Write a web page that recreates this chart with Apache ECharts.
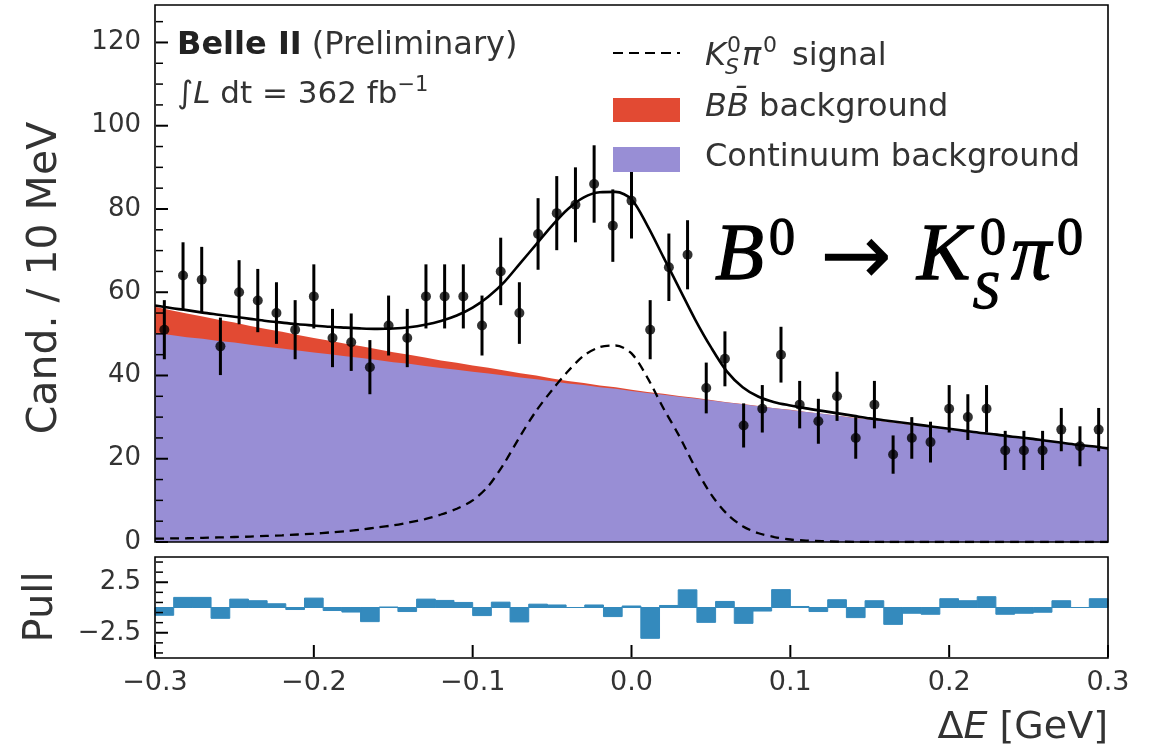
<!DOCTYPE html>
<html><head><meta charset="utf-8">
<script src="https://cdn.jsdelivr.net/npm/echarts@6/dist/echarts.min.js"></script>
<style>html,body{margin:0;padding:0;background:#fff}#c{width:1156px;height:752px}</style>
</head><body><div id="c"></div>
<script>
// ---- data ----
const binCenters = [-0.29412,-0.28235,-0.27059,-0.25882,-0.24706,-0.23529,-0.22353,-0.21176,-0.20000,-0.18824,
  -0.17647,-0.16471,-0.15294,-0.14118,-0.12941,-0.11765,-0.10588,-0.09412,-0.08235,-0.07059,
  -0.05882,-0.04706,-0.03529,-0.02353,-0.01176,0.00000,0.01176,0.02353,0.03529,0.04706,
  0.05882,0.07059,0.08235,0.09412,0.10588,0.11765,0.12941,0.14118,0.15294,0.16471,
  0.17647,0.18824,0.20000,0.21176,0.22353,0.23529,0.24706,0.25882,0.27059,0.28235,0.29412];
const counts = [51,64,63,47,60,58,55,51,59,49,48,42,52,49,59,59,59,52,65,55,
  74,79,81,86,76,82,51,66,69,37,44,28,32,45,33,29,35,25,33,21,
  25,24,32,30,32,22,22,22,27,23,27];
const countErrors = [7.1,8.0,7.9,6.9,7.7,7.6,7.4,7.1,7.7,7.0,6.9,6.5,7.2,7.0,7.7,7.7,7.7,7.2,8.1,7.4,
  8.6,8.9,9.0,9.3,8.7,9.1,7.1,8.1,8.3,6.1,6.6,5.3,5.7,6.7,5.7,5.4,5.9,5.0,5.7,4.6,
  5.0,4.9,5.7,5.5,5.7,4.7,4.7,4.7,5.2,4.8,5.2];
const pulls = [-0.77,1.0,1.0,-1.07,0.83,0.67,0.37,-0.2,0.93,-0.3,-0.45,-1.4,0.05,-0.4,0.83,0.7,0.5,-0.8,0.53,-1.43,
  0.33,0.25,0.0,0.25,-0.9,0.15,-3.05,0.2,1.75,-1.47,0.6,-1.57,-0.35,1.77,0.1,-0.4,0.77,-1.0,0.67,-1.67,
  -0.57,-0.67,0.87,0.67,1.07,-0.67,-0.57,-0.47,0.67,0.0,0.87];
const curveX = [-0.30,-0.29,-0.28,-0.27,-0.26,-0.25,-0.24,-0.23,-0.22,-0.21,-0.20,-0.19,-0.18,-0.17,-0.16,-0.15,
  -0.14,-0.13,-0.12,-0.11,-0.10,-0.09,-0.08,-0.07,-0.06,-0.05,-0.04,-0.03,-0.02,-0.01,0.00,
  0.01,0.02,0.03,0.04,0.05,0.06,0.07,0.08,0.09,0.10,0.11,0.12,0.13,0.14,0.15,
  0.16,0.17,0.18,0.19,0.20,0.21,0.22,0.23,0.24,0.25,0.26,0.27,0.28,0.29,0.30];
const totalFit = [56.8,56.2,55.7,55.1,54.6,54.1,53.6,53.1,52.7,52.3,52.0,51.7,51.5,51.3,51.2,51.3,
  51.6,52.2,53.1,54.4,56.3,59.0,62.5,67.0,71.5,76.0,80.0,82.8,84.0,84.1,82.3,
  76.0,68.5,61.0,53.5,46.8,41.0,37.2,34.9,33.6,32.8,32.1,31.5,30.9,30.3,29.7,
  29.2,28.7,28.2,27.7,27.2,26.7,26.2,25.8,25.3,24.9,24.4,23.9,23.4,23.0,22.5];
const signalPdf = [0.8,0.85,0.9,1.0,1.1,1.2,1.3,1.45,1.6,1.8,2.0,2.3,2.6,3.0,3.5,4.0,
  4.7,5.5,6.6,8.0,10.0,13.5,19.0,25.5,31.5,36.5,41.0,44.8,46.8,47.2,45.3,
  39.5,32.2,25.5,18.0,11.5,6.8,3.8,2.1,1.2,0.6,0.35,0.2,0.1,0.05,0.02,
  0,0,0,0,0,0,0,0,0,0,0,0,0,0,0];
const continuumBkg = [50.2,49.7,49.2,48.8,48.3,47.9,47.4,46.9,46.5,46.0,45.5,45.1,44.6,44.2,43.7,43.2,
  42.8,42.3,41.8,41.4,40.9,40.5,40.0,39.5,39.1,38.6,38.1,37.7,37.2,36.8,36.3,
  35.8,35.4,34.9,34.5,34.0,33.5,33.1,32.6,32.1,31.7,31.2,30.8,30.3,29.8,29.4,
  28.9,28.4,28.0,27.5,27.1,26.6,26.1,25.7,25.2,24.7,24.3,23.8,23.4,22.9,22.4];
const bbBkg = [6.3,6.0,5.7,5.4,5.1,4.8,4.5,4.25,4.0,3.75,3.5,3.25,3.0,2.8,2.6,2.4,
  2.2,2.0,1.8,1.65,1.5,1.35,1.2,1.05,0.9,0.7,0.6,0.5,0.4,0.35,0.3,
  0.25,0.2,0.18,0.15,0.12,0.1,0.08,0.06,0.05,0.04,0.03,0.03,0.02,0.02,0.02,
  0.01,0.01,0.01,0,0,0,0,0,0,0,0,0,0,0,0];
const xTickLabels = [-0.3,-0.2,-0.1,0.0,0.1,0.2,0.3];
const yMajorTicks = [0,20,40,60,80,100,120];
const yMinorTicks = [5,10,15,25,30,35,45,50,55,65,70,75,85,90,95,105,110,115,125];
const pullMajorTicks = [-2.5,2.5];
const pullMinorTicks = [-4.5,-3.5,-1.5,-0.5,0.5,1.5,3.5,4.5];

// ---- styling / layout ----
const FONT = 'DejaVu Sans';
const SERIF = 'Liberation Serif';
const TXT = '#333';
const G0 = {left:155, top:5, width:953, height:537};
const G1 = {left:155, top:557, width:953, height:101};
const X_MIN = -0.3, X_MAX = 0.3, Y_MAX = 129, P_MIN = -5, P_MAX = 5;
const binWidth = binCenters[1] - binCenters[0];
const fmtMinus = s => String(s).replace('-', '\u2212');
const fmtX = v => { const r = Math.round(v*10)/10; return Math.abs(r) < 1e-9 ? '0.0' : fmtMinus(r.toFixed(1)); };

const chart = echarts.init(document.getElementById('c'), null, {renderer:'canvas'});

function txt(text, x, y, o) {
  o = o || {};
  return {type:'text', x:x, y:y, z:200, rotation:o.rotation||0,
    style:Object.assign({text:text, fill:o.fill||TXT, fontFamily:o.fontFamily||FONT, fontSize:o.fontSize||32,
      fontStyle:o.fontStyle||'normal', fontWeight:o.fontWeight||'normal',
      align:o.align||'left', verticalAlign:o.verticalAlign||'middle'},
      o.rich?{rich:o.rich}:{}, o.stroke?{stroke:o.stroke, lineWidth:o.lineWidth||1}:{})};
}
const big = {fontFamily:SERIF, fill:'#000', stroke:'#000', lineWidth:1.3};

// inward tick marks: a custom series per axis, positioned by the axes' own scales
function tickSeries(xi, yi, values, isY, edgeValue, len, width) {
  return {type:'custom', xAxisIndex:xi, yAxisIndex:yi, z:30, clip:false, silent:true,
    data: values.map(v => isY ? [edgeValue, v] : [v, edgeValue]),
    renderItem:(params, api)=>{
      const p = api.coord([api.value(0), api.value(1)]);
      const shape = isY ? {x1:p[0]+1, y1:p[1], x2:p[0]+1+len, y2:p[1]} : {x1:p[0], y1:p[1]-1, x2:p[0], y2:p[1]-1-len};
      return {type:'line', shape:shape, style:{stroke:'#000', lineWidth:width}};
    }};
}

const option = {
  animation:false,
  backgroundColor:'#fff',
  grid:[Object.assign({show:false}, G0), Object.assign({show:false}, G1)],
  xAxis:[
    {gridIndex:0, type:'value', min:X_MIN, max:X_MAX, interval:0.1,
     axisLine:{show:false}, axisTick:{show:false}, axisLabel:{show:false}, splitLine:{show:false}},
    {gridIndex:1, type:'value', min:X_MIN, max:X_MAX, interval:0.1,
     axisLine:{show:false}, axisTick:{show:false},
     axisLabel:{show:true, customValues:xTickLabels, fontSize:27, fontFamily:FONT, color:TXT, margin:11, formatter:fmtX},
     splitLine:{show:false}}
  ],
  yAxis:[
    {gridIndex:0, type:'value', min:0, max:Y_MAX,
     axisLine:{show:false}, splitLine:{show:false}, axisTick:{show:false},
     axisLabel:{show:true, customValues:yMajorTicks, fontSize:26, fontFamily:FONT, color:TXT, margin:14}},
    {gridIndex:1, type:'value', min:P_MIN, max:P_MAX,
     axisLine:{show:false}, splitLine:{show:false}, axisTick:{show:false},
     axisLabel:{show:true, customValues:pullMajorTicks, fontSize:26, fontFamily:FONT, color:TXT, margin:14,
       formatter:v => fmtMinus(v)}}
  ],
  series:[
    {name:'BB background', type:'line', xAxisIndex:0, yAxisIndex:0, z:2, showSymbol:false, symbol:'none',
     data:curveX.map((x,i)=>[x, continuumBkg[i]+bbBkg[i]]),
     lineStyle:{width:0}, areaStyle:{color:'#E24A33', opacity:1}},
    {name:'Continuum background', type:'line', xAxisIndex:0, yAxisIndex:0, z:3, showSymbol:false, symbol:'none',
     data:curveX.map((x,i)=>[x, continuumBkg[i]]),
     lineStyle:{width:0}, areaStyle:{color:'#988ED5', opacity:1}},
    {name:'signal', type:'line', xAxisIndex:0, yAxisIndex:0, z:4, showSymbol:false, symbol:'none', smooth:0.3,
     data:curveX.map((x,i)=>[x, signalPdf[i]]),
     lineStyle:{color:'#000', width:2.3, type:[9,6]}},
    {name:'total', type:'line', xAxisIndex:0, yAxisIndex:0, z:5, showSymbol:false, symbol:'none', smooth:0.3,
     data:curveX.map((x,i)=>[x, totalFit[i]]),
     lineStyle:{color:'#000', width:2.6}},
    {name:'errors', type:'custom', xAxisIndex:0, yAxisIndex:0, z:6,
     data:binCenters.map((x,i)=>[x, counts[i]-countErrors[i], counts[i]+countErrors[i]]),
     renderItem:(params, api)=>{
       const lo = api.coord([api.value(0), api.value(1)]);
       const hi = api.coord([api.value(0), api.value(2)]);
       return {type:'line', shape:{x1:lo[0], y1:lo[1], x2:hi[0], y2:hi[1]}, style:{stroke:'#000', lineWidth:3}};
     }},
    {name:'data', type:'scatter', xAxisIndex:0, yAxisIndex:0, z:7, symbol:'circle', symbolSize:10,
     itemStyle:{color:'#000'}, data:binCenters.map((x,i)=>[x, counts[i]])},
    {name:'pull', type:'custom', xAxisIndex:1, yAxisIndex:1, z:4,
     data:binCenters.map((x,i)=>[x, pulls[i]]),
     renderItem:(params, api)=>{
       const c = api.value(0), v = api.value(1);
       const p0 = api.coord([c - binWidth/2, 0]);
       const p1 = api.coord([c + binWidth/2, v]);
       return {type:'rect', shape:{x:p0[0], y:Math.min(p0[1],p1[1]), width:p1[0]-p0[0], height:Math.abs(p1[1]-p0[1])},
         style:{fill:'#348ABD', stroke:'#348ABD', lineWidth:1}};
     }},
    tickSeries(0, 0, yMajorTicks, true, X_MIN, 12, 2),
    tickSeries(0, 0, yMinorTicks, true, X_MIN, 7, 1.5),
    tickSeries(1, 1, pullMajorTicks, true, X_MIN, 12, 2),
    tickSeries(1, 1, pullMinorTicks, true, X_MIN, 7, 1.5),
    tickSeries(1, 1, xTickLabels, false, P_MIN, 12, 2)
  ],
  graphic:[
    {type:'rect', z:150, silent:true, shape:{x:G0.left, y:G0.top, width:G0.width, height:G0.height}, style:{fill:null, stroke:'#000', lineWidth:1.6}},
    {type:'rect', z:150, silent:true, shape:{x:G1.left, y:G1.top, width:G1.width, height:G1.height}, style:{fill:null, stroke:'#000', lineWidth:1.6}},
    // axis titles
    txt('Cand. / 10 MeV', 45, 278, {fontSize:41, align:'center', rotation:Math.PI/2}),
    txt('Pull', 42, 607, {fontSize:40, align:'center', rotation:Math.PI/2}),
    txt('{n|\u0394}{i|E}{n| [GeV]}', 1108, 728, {align:'right', rich:{
      n:{fontFamily:FONT, fontSize:38, fill:TXT}, i:{fontFamily:FONT, fontSize:38, fontStyle:'italic', fill:TXT}}}),
    // experiment label
    txt('{b|Belle II}{n| (Preliminary)}', 177, 46, {rich:{
      b:{fontFamily:FONT, fontSize:32, fontWeight:'bold', fill:'#222'}, n:{fontFamily:FONT, fontSize:32, fill:TXT}}}),
    txt('{n|\u222B}{i|L}{n| dt = 362 fb}{s|\u22121}', 177, 95, {rich:{
      n:{fontFamily:FONT, fontSize:31, fill:TXT, lineHeight:40, verticalAlign:'middle'},
      i:{fontFamily:FONT, fontSize:31, fontStyle:'italic', fill:TXT, lineHeight:40, verticalAlign:'middle'},
      s:{fontFamily:FONT, fontSize:21, fill:TXT, lineHeight:21, verticalAlign:'top'}}}),
    // legend
    {type:'line', z:150, shape:{x1:613, y1:53, x2:680, y2:53}, style:{stroke:'#000', lineWidth:2.2, lineDash:[10,6]}},
    txt('K', 705, 57, {fontStyle:'italic'}),
    txt('0', 727, 46, {fontSize:22}),
    txt('S', 725, 68, {fontSize:22, fontStyle:'italic'}),
    txt('\u03C0', 742, 57, {fontStyle:'italic'}),
    txt('0', 763, 46, {fontSize:22}),
    txt('signal', 792, 57),
    {type:'rect', z:150, shape:{x:613, y:98, width:67, height:24}, style:{fill:'#E24A33'}},
    txt('{i|BB\u0304}{n| background}', 705, 108, {rich:{
      i:{fontFamily:FONT, fontSize:32, fontStyle:'italic', fill:TXT}, n:{fontFamily:FONT, fontSize:32, fill:TXT}}}),
    {type:'rect', z:150, shape:{x:613, y:147, width:67, height:25}, style:{fill:'#988ED5'}},
    txt('Continuum background', 705, 158),
    // decay label
    txt('B', 715, 258, Object.assign({fontSize:80, fontStyle:'italic'}, big)),
    txt('0', 769, 240, Object.assign({fontSize:52}, big)),
    txt('\u2192', 820, 262, {fontFamily:FONT, fontSize:86, fill:'#000'}),
    txt('K', 917, 258, Object.assign({fontSize:80, fontStyle:'italic'}, big)),
    txt('0', 980, 240, Object.assign({fontSize:52}, big)),
    txt('S', 973, 294, Object.assign({fontSize:52, fontStyle:'italic'}, big)),
    txt('\u03C0', 1011, 258, Object.assign({fontSize:80, fontStyle:'italic'}, big)),
    txt('0', 1057, 240, Object.assign({fontSize:52}, big))
  ]
};
chart.setOption(option);
</script></body></html>
